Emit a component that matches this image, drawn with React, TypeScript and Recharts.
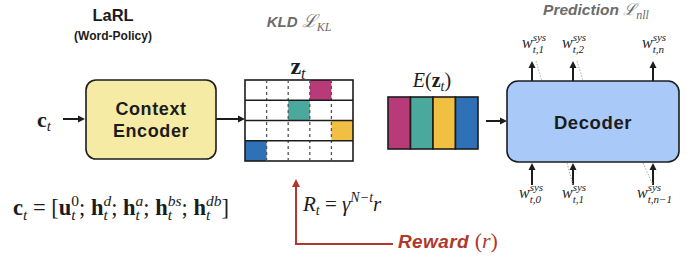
import React from 'react';
import { ScatterChart, Scatter, XAxis, YAxis, ReferenceArea, ReferenceLine } from 'recharts';

const W = 699;
const H = 259;

// ---- diagram data (coordinates in the diagram's own units) ----
const encoderBox = { x1: 86, x2: 216, y1: 80, y2: 159 };
const decoderBox = { x1: 507, x2: 679, y1: 81, y2: 162 };
const latentGrid = { x1: 245, x2: 353, y1: 80, y2: 161 };
const gridRows = 4;
const gridCols = 5;
const activeCells = [
  { row: 0, col: 3, tone: 'magenta' },
  { row: 1, col: 2, tone: 'teal' },
  { row: 2, col: 4, tone: 'yellow' },
  { row: 3, col: 0, tone: 'blue' },
];
const embedBox = { x1: 388, x2: 478, y1: 97, y2: 149 };
const embedTones = ['magenta', 'teal', 'yellow', 'blue'];

const decoderStepsX = [532, 573, 653];
const outputSubs = ['t,1', 't,2', 't,n'];
const inputSubs = ['t,0', 't,1', 't,n\u22121'];
const outputLabelX = [522, 562, 642];
const inputLabelX = [519, 562, 637];

const flowArrows = [
  { x1: 63, y1: 119, x2: 85, y2: 119 },
  { x1: 216, y1: 119, x2: 245, y2: 119 },
  { x1: 486, y1: 121, x2: 507, y2: 121 },
];
const dottedHints = [
  { x1: 536, y1: 61, x2: 542, y2: 81 },
  { x1: 577, y1: 61, x2: 583, y2: 81 },
  { x1: 567, y1: 163, x2: 573, y2: 185 },
  { x1: 643, y1: 163, x2: 653, y2: 185 },
];
const rewardPath = { xLeft: 296, xRight: 392, yBottom: 244, yTop: 179 };

const titleLines = ['LaRL', '(Word-Policy)'];
const encoderLines = ['Context', 'Encoder'];
const decoderText = 'Decoder';
const rewardText = 'Reward';
const kldText = 'KLD';
const predictionText = 'Prediction';

const labels = [
  { id: 'title', x: 113, y: 21 },
  { id: 'subtitle', x: 113, y: 40 },
  { id: 'kld', x: 299, y: 27 },
  { id: 'zt', x: 298, y: 74 },
  { id: 'ct', x: 37, y: 127 },
  { id: 'enc1', x: 151, y: 114.5 },
  { id: 'enc2', x: 151, y: 137 },
  { id: 'ez', x: 432, y: 87 },
  { id: 'dec', x: 593, y: 128.5 },
  { id: 'pred', x: 596, y: 15 },
  { id: 'rt', x: 303, y: 211 },
  { id: 'reward', x: 398, y: 248 },
  { id: 'formula', x: 13, y: 215 },
  ...outputLabelX.map((x, i) => ({ id: 'out' + i, x, y: 48 })),
  ...inputLabelX.map((x, i) => ({ id: 'in' + i, x, y: 198 })),
];

// ---- styles ----
const tones: Record<string, string> = {
  magenta: '#B93A78',
  teal: '#4BA89C',
  yellow: '#F1BF42',
  blue: '#2F71B6',
};
const INK = '#1c1c1c';
const GRAY = '#6b6b6b';
const RED = '#B0392C';
const SERIF = "'Liberation Serif', 'DejaVu Serif', serif";
const SANS = "'Liberation Sans', Arial, sans-serif";
const SCRIPT = "'DejaVu Serif', serif";

const roundedRect = (fill: string, r: number) => (p: any) => (
  <rect x={p.x} y={p.y} width={p.width} height={p.height} rx={r} ry={r} fill={fill} stroke={INK} strokeWidth={1.6} />
);
const plainRect = (fill: string, stroke: string | undefined, sw: number) => (p: any) => (
  <rect x={p.x} y={p.y} width={p.width} height={p.height} fill={fill} stroke={stroke || 'none'} strokeWidth={sw} />
);

const arrowShape = (color: string, width: number, head = 7) => (p: any) => {
  const { x1, y1, x2, y2 } = p;
  if ([x1, y1, x2, y2].some((v) => v == null || isNaN(v))) return <g />;
  const dx = x2 - x1;
  const dy = y2 - y1;
  const L = Math.hypot(dx, dy) || 1;
  const ux = dx / L;
  const uy = dy / L;
  const bx = x2 - ux * head;
  const by = y2 - uy * head;
  const hw = head * 0.5;
  return (
    <g>
      <line x1={x1} y1={y1} x2={bx} y2={by} stroke={color} strokeWidth={width} />
      <polygon points={`${x2},${y2} ${bx - uy * hw},${by + ux * hw} ${bx + uy * hw},${by - ux * hw}`} fill={color} />
    </g>
  );
};

function wLabel(x: number, y: number, sub: string) {
  return (
    <text x={x} y={y} fontFamily={SERIF} fontStyle="italic" fill={INK} fontSize={16}>
      w
      <tspan fontSize={11} dy={-7}>sys</tspan>
      <tspan fontSize={11} dx={-13.4} dy={12}>{sub}</tspan>
    </text>
  );
}

function stack(base: string, sup: string, upright = false) {
  return [
    <tspan key="b" fontWeight="bold">{base}</tspan>,
    <tspan key="s" fontStyle="italic" fontSize={15.5} dy={5}>t</tspan>,
    <tspan key="p" fontStyle={upright ? 'normal' : 'italic'} fontSize={15.5} dx={-4.3} dy={-14}>{sup}</tspan>,
  ];
}

function renderLabel(props: any) {
  const { cx, cy, payload } = props;
  const id: string = payload.id;
  if (id.startsWith('out')) return wLabel(cx, cy, outputSubs[Number(id.slice(3))]);
  if (id.startsWith('in')) return wLabel(cx, cy, inputSubs[Number(id.slice(2))]);
  switch (id) {
    case 'title':
      return (
        <text x={cx} y={cy} textAnchor="middle" fontFamily={SANS} fontWeight="bold" fontSize={16.5} fill={INK}>
          {titleLines[0]}
        </text>
      );
    case 'subtitle':
      return (
        <text x={cx} y={cy} textAnchor="middle" fontFamily={SANS} fontWeight="bold" fontSize={12} fill={INK}>
          {titleLines[1]}
        </text>
      );
    case 'kld':
      return (
        <text x={cx} y={cy} textAnchor="middle" fill={GRAY}>
          <tspan fontFamily={SANS} fontWeight="bold" fontStyle="italic" fontSize={15}>{kldText + ' '}</tspan>
          <tspan fontFamily={SCRIPT} fontStyle="italic" fontSize={18}>{'\u2112'}</tspan>
          <tspan fontFamily={SERIF} fontStyle="italic" fontSize={12} dy={4}>KL</tspan>
        </text>
      );
    case 'pred':
      return (
        <text x={cx} y={cy} textAnchor="middle" fill={GRAY}>
          <tspan fontFamily={SANS} fontWeight="bold" fontStyle="italic" fontSize={15.5}>{predictionText + ' '}</tspan>
          <tspan fontFamily={SCRIPT} fontStyle="italic" fontSize={16}>{'\u2112'}</tspan>
          <tspan fontFamily={SERIF} fontStyle="italic" fontSize={12} dy={4}>nll</tspan>
        </text>
      );
    case 'zt':
      return (
        <text x={cx} y={cy} textAnchor="middle" fontFamily={SERIF} fill={INK} fontSize={24}>
          <tspan fontWeight="bold">z</tspan>
          <tspan fontStyle="italic" fontSize={16} dy={5}>t</tspan>
        </text>
      );
    case 'ct':
      return (
        <text x={cx} y={cy} fontFamily={SERIF} fill={INK} fontSize={22}>
          <tspan fontWeight="bold">c</tspan>
          <tspan fontStyle="italic" fontSize={15} dy={4}>t</tspan>
        </text>
      );
    case 'enc1':
    case 'enc2':
      return (
        <text x={cx} y={cy} textAnchor="middle" fontFamily={SANS} fontWeight="bold" fontSize={18} letterSpacing={0.6} fill={INK}>
          {encoderLines[id === 'enc1' ? 0 : 1]}
        </text>
      );
    case 'dec':
      return (
        <text x={cx} y={cy} textAnchor="middle" fontFamily={SANS} fontWeight="bold" fontSize={18.5} letterSpacing={0.6} fill={INK}>
          {decoderText}
        </text>
      );
    case 'ez':
      return (
        <text x={cx} y={cy} textAnchor="middle" fontFamily={SERIF} fill={INK} fontSize={20}>
          <tspan fontStyle="italic">E</tspan>
          <tspan>(</tspan>
          <tspan fontWeight="bold">z</tspan>
          <tspan fontStyle="italic" fontSize={14} dy={4}>t</tspan>
          <tspan dy={-4}>)</tspan>
        </text>
      );
    case 'rt':
      return (
        <text x={cx} y={cy} fontFamily={SERIF} fill={INK} fontSize={21}>
          <tspan fontStyle="italic">R</tspan>
          <tspan fontStyle="italic" fontSize={14} dy={4}>t</tspan>
          <tspan dy={-4}>{' = '}</tspan>
          <tspan fontStyle="italic">{'\u03b3'}</tspan>
          <tspan fontStyle="italic" fontSize={14} dy={-9}>{'N\u2212t'}</tspan>
          <tspan fontStyle="italic" dy={9}>r</tspan>
        </text>
      );
    case 'reward':
      return (
        <text x={cx} y={cy} fill={RED}>
          <tspan fontFamily={SANS} fontWeight="bold" fontStyle="italic" fontSize={19} letterSpacing={0.4}>{rewardText + ' '}</tspan>
          <tspan fontFamily={SERIF} fontSize={22}>(</tspan>
          <tspan fontFamily={SERIF} fontStyle="italic" fontSize={22}>r</tspan>
          <tspan fontFamily={SERIF} fontSize={22}>)</tspan>
        </text>
      );
    case 'formula':
      return (
        <text x={cx} y={cy} fontFamily={SERIF} fill={INK} fontSize={22.5}>
          <tspan fontWeight="bold">c</tspan>
          <tspan fontStyle="italic" fontSize={15.5} dy={5}>t</tspan>
          <tspan dy={-5}>{' = ['}</tspan>
          {stack('u', '0', true)}
          <tspan dy={9}>{'; '}</tspan>
          {stack('h', 'd')}
          <tspan dy={9}>{'; '}</tspan>
          {stack('h', 'a')}
          <tspan dy={9}>{'; '}</tspan>
          {stack('h', 'bs')}
          <tspan dy={9}>{'; '}</tspan>
          {stack('h', 'db')}
          <tspan dy={9}>]</tspan>
        </text>
      );
    default:
      return <g />;
  }
}

export default function App() {
  const cw = (latentGrid.x2 - latentGrid.x1) / gridCols;
  const rh = (latentGrid.y2 - latentGrid.y1) / gridRows;
  const ew = (embedBox.x2 - embedBox.x1) / embedTones.length;

  return (
    <div style={{ width: W, height: H }}>
      <style>{'body{margin:0;background:#fff}'}</style>
      <ScatterChart width={W} height={H} margin={{ top: 0, right: 0, bottom: 0, left: 0 }}>
        <XAxis type="number" dataKey="x" domain={[0, W]} hide allowDataOverflow />
        <YAxis type="number" dataKey="y" domain={[0, H]} hide reversed allowDataOverflow />

        <ReferenceArea x1={encoderBox.x1} x2={encoderBox.x2} y1={encoderBox.y1} y2={encoderBox.y2} shape={roundedRect('#F6EBA4', 10)} />
        <ReferenceArea x1={decoderBox.x1} x2={decoderBox.x2} y1={decoderBox.y1} y2={decoderBox.y2} shape={roundedRect('#A9C9F8', 11)} />

        <ReferenceArea x1={latentGrid.x1} x2={latentGrid.x2} y1={latentGrid.y1} y2={latentGrid.y2} shape={plainRect('#ffffff', undefined, 0)} />
        {activeCells.map((c, i) => (
          <ReferenceArea
            key={'cell' + i}
            x1={latentGrid.x1 + c.col * cw}
            x2={latentGrid.x1 + (c.col + 1) * cw}
            y1={latentGrid.y1 + c.row * rh}
            y2={latentGrid.y1 + (c.row + 1) * rh}
            shape={plainRect(tones[c.tone], undefined, 0)}
          />
        ))}

        {embedTones.map((t, i) => (
          <ReferenceArea
            key={'emb' + i}
            x1={embedBox.x1 + i * ew}
            x2={embedBox.x1 + (i + 1) * ew}
            y1={embedBox.y1}
            y2={embedBox.y2}
            shape={plainRect(tones[t], INK, 1.6)}
          />
        ))}

        {Array.from({ length: gridCols - 1 }, (_, i) => (
          <ReferenceLine
            key={'vd' + i}
            segment={[
              { x: latentGrid.x1 + (i + 1) * cw, y: latentGrid.y1 },
              { x: latentGrid.x1 + (i + 1) * cw, y: latentGrid.y2 },
            ]}
            stroke="#555"
            strokeWidth={1.3}
            strokeDasharray="3 3"
          />
        ))}
        {Array.from({ length: gridRows - 1 }, (_, i) => (
          <ReferenceLine
            key={'hr' + i}
            segment={[
              { x: latentGrid.x1, y: latentGrid.y1 + (i + 1) * rh },
              { x: latentGrid.x2, y: latentGrid.y1 + (i + 1) * rh },
            ]}
            stroke={INK}
            strokeWidth={1.6}
          />
        ))}
        <ReferenceArea x1={latentGrid.x1} x2={latentGrid.x2} y1={latentGrid.y1} y2={latentGrid.y2} shape={plainRect('none', INK, 1.6)} />

        {flowArrows.map((a, i) => (
          <ReferenceLine key={'fa' + i} segment={[{ x: a.x1, y: a.y1 }, { x: a.x2, y: a.y2 }]} stroke={INK} shape={arrowShape(INK, 2, 7)} />
        ))}
        {decoderStepsX.map((x, i) => (
          <ReferenceLine key={'up' + i} segment={[{ x, y: decoderBox.y1 }, { x, y: 61 }]} stroke={INK} shape={arrowShape(INK, 2, 7)} />
        ))}
        {decoderStepsX.map((x, i) => (
          <ReferenceLine key={'in' + i} segment={[{ x, y: 185 }, { x, y: decoderBox.y2 + 1 }]} stroke={INK} shape={arrowShape(INK, 2, 7)} />
        ))}
        {dottedHints.map((d, i) => (
          <ReferenceLine key={'dh' + i} segment={[{ x: d.x1, y: d.y1 }, { x: d.x2, y: d.y2 }]} stroke="#a8a8a8" strokeWidth={1} strokeDasharray="1.5 1.5" />
        ))}

        <ReferenceLine
          segment={[{ x: rewardPath.xRight, y: rewardPath.yBottom }, { x: rewardPath.xLeft, y: rewardPath.yBottom }]}
          stroke={RED}
          strokeWidth={2}
          strokeLinecap="square"
        />
        <ReferenceLine
          segment={[{ x: rewardPath.xLeft, y: rewardPath.yBottom }, { x: rewardPath.xLeft, y: rewardPath.yTop }]}
          stroke={RED}
          shape={arrowShape(RED, 2, 8)}
        />

        <Scatter data={labels} shape={renderLabel} isAnimationActive={false} />
      </ScatterChart>
    </div>
  );
}
